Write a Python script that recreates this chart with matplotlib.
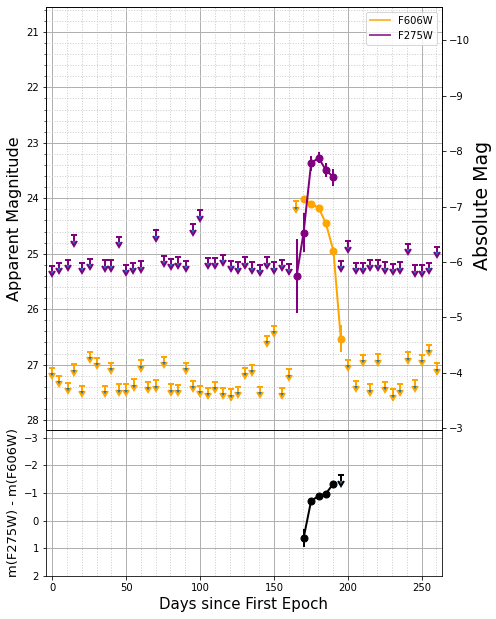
import matplotlib
matplotlib.use("Agg")
import matplotlib.pyplot as plt
import numpy as np
from matplotlib.lines import Line2D
from matplotlib.ticker import MultipleLocator

# F606W upper limits (days, apparent mag)
days_606_lim = [0.0, 4.7, 10.8, 14.8, 20.1, 25.5, 30.4, 35.8, 39.8, 45.1, 49.8, 55.4,
                60.2, 64.8, 70.3, 75.7, 80.4, 84.8, 90.3, 95.3, 100.2, 105.4, 110.4,
                115.3, 120.8, 125.7, 130.4, 135.4, 140.3, 145.3, 150.0, 155.2, 160.1,
                165.1, 200.5, 205.4, 210.2, 214.9, 220.3, 225.5, 230.4, 235.2, 240.6,
                245.3, 250.0, 255.2, 260.1]
mag_606_lim = [27.06, 27.20, 27.33, 26.99, 27.38, 26.77, 26.88, 27.38, 26.97, 27.35, 27.35, 27.26,
               26.92, 27.31, 27.28, 26.86, 27.35, 27.36, 26.97, 27.29, 27.38, 27.42, 27.31,
               27.42, 27.44, 27.40, 27.06, 27.00, 27.40, 26.48, 26.30, 27.42, 27.08,
               24.05, 26.91, 27.29, 26.82, 27.35, 26.81, 27.31, 27.44, 27.35, 26.78,
               27.28, 26.82, 26.64, 26.98]

# F275W upper limits
days_275_lim = [0.0, 4.7, 10.8, 14.8, 20.1, 25.5, 35.8, 39.8, 45.1, 49.8, 54.8,
                60.2, 70.3, 75.7, 80.4, 84.8, 90.3, 95.3, 100.2, 105.4, 110.4,
                115.3, 120.8, 125.7, 130.4, 135.4, 140.3, 145.3, 150.0, 155.2, 160.1,
                195.3, 200.5, 205.4, 210.2, 214.9, 220.3, 225.5, 230.4, 235.2, 240.6,
                245.3, 250.0, 255.2, 260.1]
mag_275_lim = [25.22, 25.16, 25.11, 24.67, 25.16, 25.09, 25.12, 25.12, 24.69, 25.20, 25.16,
               25.14, 24.58, 25.04, 25.09, 25.06, 25.13, 24.47, 24.22, 25.07, 25.07,
               25.02, 25.13, 25.15, 25.06, 25.15, 25.20, 25.06, 25.15, 25.11, 25.18,
               25.13, 24.77, 25.16, 25.16, 25.11, 25.11, 25.15, 25.18, 25.15, 24.82,
               25.21, 25.21, 25.16, 24.87]

# detections
days_606 = [170.1, 175.2, 180.2, 185.2, 190.3, 195.3]
mag_606 = [24.02, 24.10, 24.17, 24.45, 24.95, 26.53]
err_606 = [0.05, 0.05, 0.05, 0.06, 0.08, 0.25]

days_275 = [165.4, 170.1, 175.2, 180.2, 185.2, 190.3]
mag_275 = [25.40, 24.62, 23.37, 23.27, 23.49, 23.62]
err_275 = [0.67, 0.35, 0.13, 0.10, 0.13, 0.15]

# colour F275W - F606W
days_col = [170.1, 175.2, 180.2, 185.2, 190.3]
col = [0.63, -0.72, -0.89, -0.98, -1.34]
col_err = [0.33, 0.10, 0.08, 0.08, 0.10]
days_col_lim = [195.3]
col_lim = [-1.64]

dist_mod = 31.15
c606 = "orange"
c275 = "purple"

fig = plt.figure(figsize=(496 / 72, 619 / 72), dpi=72)
ax = fig.add_axes([0.0927, 0.3053, 0.7984, 0.6834])
ax2 = fig.add_axes([0.0927, 0.0695, 0.7984, 0.2358], sharex=ax)

ax.set_xlim(-4.3, 263.8)
ax.set_ylim(28.18, 20.55)
ax2.set_ylim(2, -3.28)

lim_kw = dict(yerr=0.1, lolims=True, fmt="none", capsize=3, elinewidth=2, capthick=2)
ax.errorbar(days_606_lim, mag_606_lim, ecolor=c606, **lim_kw)
ax.errorbar(days_275_lim, mag_275_lim, ecolor=c275, **lim_kw)

ax.errorbar(days_606, mag_606, yerr=err_606, fmt="o-", color=c606, ms=7, lw=2, elinewidth=2)
ax.errorbar(days_275, mag_275, yerr=err_275, fmt="o-", color=c275, ms=7, lw=2, elinewidth=2)

ax.xaxis.set_major_locator(MultipleLocator(50))
ax.xaxis.set_minor_locator(MultipleLocator(10))
ax.yaxis.set_major_locator(MultipleLocator(1))
ax.yaxis.set_minor_locator(MultipleLocator(0.2))
ax.grid(which="major", color="#b0b0b0", lw=1)
ax.grid(which="minor", color="#cccccc", ls=":", lw=1)
ax.tick_params(labelbottom=False)
ax.set_ylabel("Apparent Magnitude", fontsize=16)

handles = [Line2D([], [], color=c606, lw=2, alpha=0.75),
           Line2D([], [], color=c275, lw=2, alpha=0.75)]
ax.legend(handles, ["F606W", "F275W"], loc="upper right")

axr = ax.twinx()
lo, hi = ax.get_ylim()
axr.set_ylim(lo - dist_mod, hi - dist_mod)
axr.yaxis.set_major_locator(MultipleLocator(1))
axr.set_ylabel("Absolute Mag", fontsize=19)
axr.yaxis.set_label_coords(1.078, 0.53)

ax2.errorbar(days_col, col, yerr=col_err, fmt="o-", color="black", ms=7, lw=2, elinewidth=2)
ax2.errorbar(days_col_lim, col_lim, yerr=0.2, lolims=True, fmt="none", ecolor="black",
             capsize=3, elinewidth=2, capthick=2)
ax2.yaxis.set_major_locator(MultipleLocator(1))
ax2.grid(which="major", color="#b0b0b0", lw=1)
ax2.grid(which="minor", axis="x", color="#cccccc", ls=":", lw=1)
ax2.tick_params(axis="x", which="minor", length=0)
ax2.set_xlabel("Days since First Epoch", fontsize=15)
ax2.set_ylabel("m(F275W) - m(F606W)", fontsize=13)

fig.savefig("out.png", dpi=72)
